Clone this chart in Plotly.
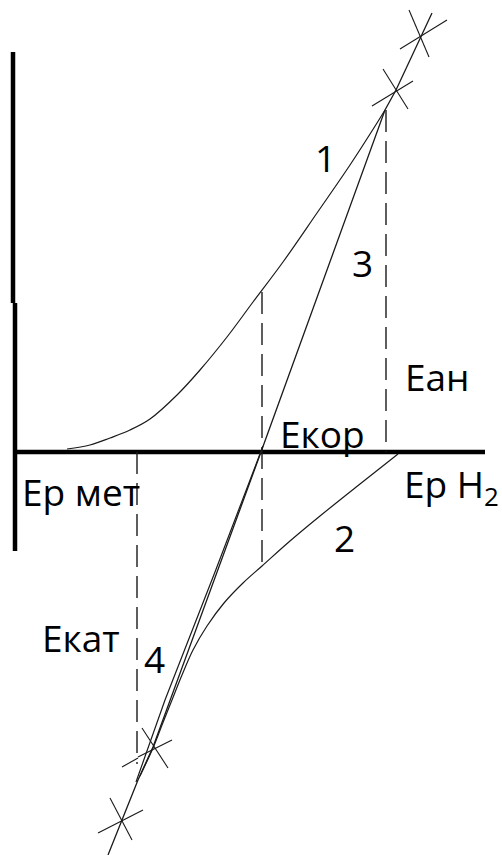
import plotly.graph_objects as go

# Diagram coordinates (x to the right, y downward, in drawing units)
axis_v_top_x = [13, 13]
axis_v_top_y = [52, 303]
axis_v_bot_x = [15, 15]
axis_v_bot_y = [303, 551]
axis_h_x = [15, 485]
axis_h_y = [452, 452]

curve1_x = [67, 90, 110, 130, 150, 177, 200, 227, 253, 283, 317, 350, 377, 385]
curve1_y = [449, 445, 438, 430, 419, 395, 370, 337, 302, 262, 213, 165, 123, 110]

line3_x = [432, 421, 396, 385, 261, 153, 138, 122, 108]
line3_y = [13, 37, 90, 110, 452, 747, 780, 820, 855]

line4_x = [263, 215, 165, 145, 136]
line4_y = [446, 572, 700, 758, 782]

curve2_x = [398, 360, 320, 290, 262, 243, 224, 207, 193, 182, 172, 162, 153, 140]
curve2_y = [454, 484, 516, 541, 566, 583, 603, 626, 650, 675, 700, 725, 748, 776]

dash_x = [[386, 386], [262, 262], [137, 137]]
dash_y = [[110, 452], [292, 567], [452, 764]]

cross_strokes = [
    ([409, 429], [10, 57]), ([447, 400], [20, 49]),
    ([383, 408], [69, 109]), ([413, 372], [81, 106]),
    ([142, 168], [728, 768]), ([172, 138], [740, 757]),
    ([110, 132], [798, 840]), ([143, 98], [810, 833]),
    ([122, 138], [767, 758]),
]

labels = ["1", "3", "Еан", "Екор", "Ер мет", "Ер H<sub>2</sub>", "2", "Екат", "4"]
label_x = [313, 350, 403, 278, 20, 402, 332, 40, 142]
label_y = [157, 262, 376, 433, 491, 486, 537, 637, 658]

ink = "#1a1a1a"
fig = go.Figure()

def add_line(xs, ys, width=1.2, dash=None, color=ink, shape="linear"):
    fig.add_trace(go.Scatter(x=xs, y=ys, mode="lines", hoverinfo="skip",
                             line=dict(color=color, width=width, dash=dash, shape=shape)))

add_line(axis_v_top_x, axis_v_top_y, width=4.5, color="black")
add_line(axis_v_bot_x, axis_v_bot_y, width=4.5, color="black")
add_line(axis_h_x, axis_h_y, width=4.5, color="black")

add_line(curve1_x, curve1_y, width=1.2, shape="spline")
add_line(line3_x, line3_y, width=1.3)
add_line(line4_x, line4_y, width=1.2)
add_line(curve2_x, curve2_y, width=1.2, shape="spline")

for xs, ys in zip(dash_x, dash_y):
    add_line(xs, ys, width=1.4, dash="22px,9px")

for xs, ys in cross_strokes:
    add_line(xs, ys, width=1.1)

for t, x, y in zip(labels, label_x, label_y):
    fig.add_annotation(x=x, y=y, text=t, showarrow=False, xanchor="left", yanchor="middle",
                       font=dict(family="Open Sans", size=37, color="black"))

fig.update_layout(
    width=502, height=855, margin=dict(l=0, r=0, t=0, b=0),
    paper_bgcolor="white", plot_bgcolor="white", showlegend=False,
    xaxis=dict(range=[0, 502], visible=False, fixedrange=True),
    yaxis=dict(range=[855, 0], visible=False, fixedrange=True),
)

fig.write_html(
    "out.html",
    config={"displayModeBar": False, "staticPlot": True},
    post_script="document.body.style.margin='0';document.body.style.overflow='hidden';",
)
